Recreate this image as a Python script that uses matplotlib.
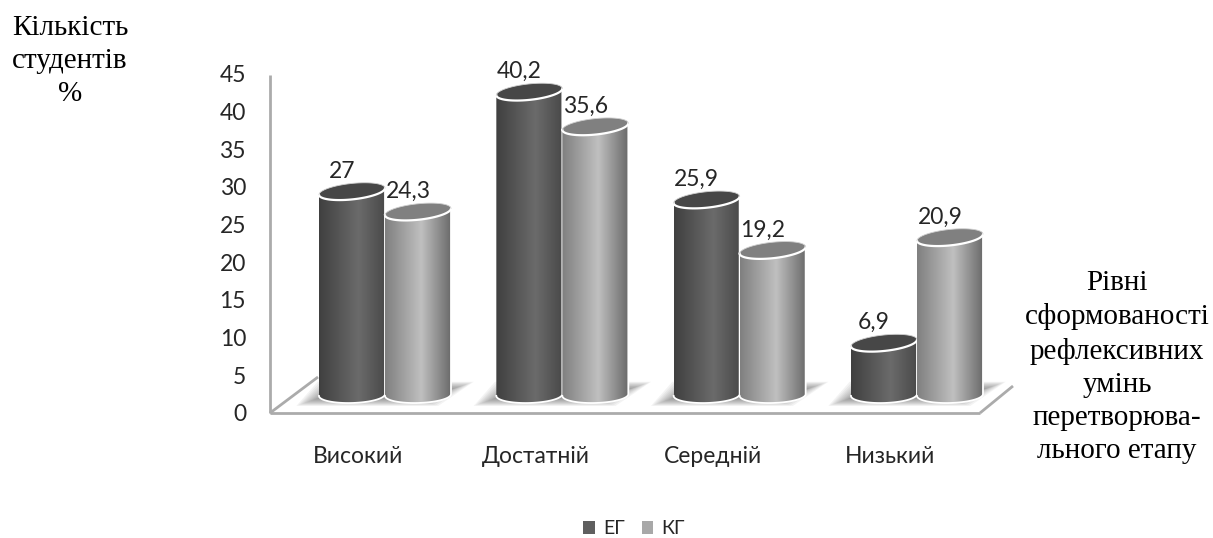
import matplotlib
matplotlib.use("Agg")
import matplotlib.pyplot as plt
import numpy as np
from matplotlib.patches import Patch, Polygon
from matplotlib.path import Path

categories = ["Високий", "Достатній", "Середній", "Низький"]
eg_values = [27, 40.2, 25.9, 6.9]
kg_values = [24.3, 35.6, 19.2, 20.9]
y_ticks = [0, 5, 10, 15, 20, 25, 30, 35, 40, 45]
series_names = ["ЕГ", "КГ"]

chart_font = ["Lato", "Noto Sans"]
side_font = "Liberation Serif"

px_w, px_h = 1213, 538
x_unit = 177.33     # px per category
y_unit = 7.54       # px per percent
x0_px, y0_px = 385, 395

half_w = 33 / x_unit
ell_b = 8 / y_unit
floor_drop = 2.65


def ellipse(cx, cy, tilt, t):
    return cx + half_w * np.cos(t), cy + ell_b * np.sin(t) + tilt * np.cos(t)


def gradient(stops, levels):
    return np.interp(np.linspace(0, 1, 256), stops, levels).reshape(1, -1)


def draw_shadow(ax, c):
    # soft floor shadow under one group of cylinders
    for i in range(12):
        s = i * 2.0 / x_unit
        d = i * 0.7 / y_unit
        pts = [(c - 0.50 + s, -1.45 + d), (c + 0.30 - s, -1.45 + d),
               (c + 0.50 - s, 1.75 - d), (c - 0.38 + s, 1.75 - d)]
        ax.add_patch(Polygon(pts, closed=True, fc="#505050", ec="none", alpha=0.065, zorder=1))


def draw_cylinder(ax, cx, value, grad, top_color, z):
    low = np.linspace(np.pi, 2 * np.pi, 40)
    up = np.linspace(0, np.pi, 40)
    bx, by = ellipse(cx, 0, 0.12, low)
    tx, ty = ellipse(cx, value, 0.44, up)
    verts = np.column_stack([np.r_[bx, tx], np.r_[by, ty]])
    codes = [Path.MOVETO] + [Path.LINETO] * (len(verts) - 1)
    body = Path(verts, codes)
    im = ax.imshow(grad, cmap="gray", vmin=0, vmax=1, aspect="auto", interpolation="bilinear",
                   extent=(cx - half_w, cx + half_w, -2, value + 2), zorder=z)
    im.set_clip_path(body, transform=ax.transData)
    ax.plot(verts[:, 0], verts[:, 1], color="white", lw=1.3, zorder=z + 0.1)
    all_t = np.linspace(0, 2 * np.pi, 80)
    ex, ey = ellipse(cx, value, 0.44, all_t)
    ax.add_patch(Polygon(np.column_stack([ex, ey]), closed=True, fc=top_color, ec="none", zorder=z + 0.2))
    lx, ly = ellipse(cx, value, 0.44, low)
    ax.plot(lx, ly, color="white", lw=1.6, zorder=z + 0.3)
    ax.plot(*ellipse(cx, value, 0.44, up), color="#d0d0d0", lw=0.6, zorder=z + 0.3)


fig = plt.figure(figsize=(px_w / 100, px_h / 100), dpi=100)
ax = fig.add_axes([0, 0, 1, 1])

dark_grad = gradient([0, 0.6, 1], [0.25, 0.42, 0.29])
light_grad = gradient([0, 0.55, 1], [0.5, 0.75, 0.42])

for i in range(len(categories)):
    draw_shadow(ax, i)
    draw_cylinder(ax, i - half_w, eg_values[i], dark_grad, "#474747", 3)
    draw_cylinder(ax, i + half_w, kg_values[i], light_grad, "#808080", 4)

    for cx, val in [(i - half_w, eg_values[i]), (i + half_w, kg_values[i])]:
        ax.annotate(str(val).replace(".", ","), (cx, val), xytext=(-7.2, 14.6),
                    textcoords="offset points", ha="center", va="center",
                    fontsize=16.5, color="#262626", family=chart_font, zorder=6)
    ax.text(i - 0.15, -8.1, categories[i], ha="center", va="center",
            fontsize=16.5, color="#262626", family=chart_font)

# axis frame: wall edge, front floor edge and the two depth edges
axis_x = (270 - x0_px) / x_unit
floor_end = (980 - x0_px) / x_unit
floor_y = -18 / y_unit
axis_style = dict(color="#ababab", lw=2, solid_capstyle="butt", zorder=2)
ax.plot([axis_x, axis_x], [floor_y, 42.4], **axis_style)
ax.plot([axis_x, floor_end], [floor_y, floor_y], **axis_style)
ax.plot([axis_x, axis_x + 48 / x_unit], [floor_y, floor_y + 36 / y_unit], **axis_style)
ax.plot([floor_end, floor_end + 33 / x_unit], [floor_y, floor_y + 27 / y_unit], **axis_style)

for t in y_ticks:
    ax.text((246 - x0_px) / x_unit, t - floor_drop, str(t), ha="right", va="center",
            fontsize=16.5, color="#262626", family=chart_font)

handles = [Patch(fc="#5f5f5f", ec="none"), Patch(fc="#a8a8a8", ec="none")]
ax.legend(handles, series_names, ncol=2, frameon=False, loc="center",
          bbox_to_anchor=(634 / px_w, 1 - 529 / px_h), handlelength=0.6, handleheight=0.6,
          handletextpad=0.4, columnspacing=0.87, labelcolor="#262626",
          prop={"family": chart_font, "size": 14})

ax.set_xlim(-x0_px / x_unit, (px_w - x0_px) / x_unit)
ax.set_ylim((y0_px - px_h) / y_unit, y0_px / y_unit)
ax.axis("off")

fig.text(70 / px_w, 1 - 61 / px_h, "Кількість\nстудентів\n%", ha="center", va="center",
         fontsize=21, family=side_font, color="black", linespacing=1.36)
fig.text(1117 / px_w, 1 - 367 / px_h, "Рівні\nсформованості\nрефлексивних\nумінь\nперетворюва-\nльного етапу",
         ha="center", va="center", fontsize=21, family=side_font, color="black", linespacing=1.36)

fig.savefig("out.png", dpi=100)
